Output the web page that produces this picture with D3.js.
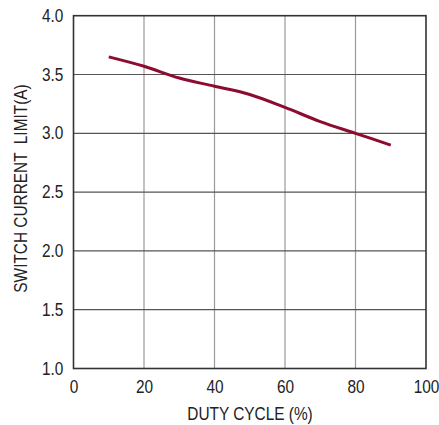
<!DOCTYPE html>
<html>
<head>
<meta charset="utf-8">
<script src="https://cdn.jsdelivr.net/npm/d3@7"></script>
<style>
body { margin: 0; background: #fff; }
text { font-family: "Liberation Sans", Arial, sans-serif; fill: #222; }
</style>
</head>
<body>
<div id="chart"></div>
<script>
// switch current limit vs duty cycle
var dutyCycle = [10, 20, 30, 40, 50, 60, 70, 80, 90];
var currentLimit = [3.65, 3.57, 3.47, 3.40, 3.33, 3.22, 3.10, 3.00, 2.90];
var xTicks = [0, 20, 40, 60, 80, 100];
var yTicks = [1.0, 1.5, 2.0, 2.5, 3.0, 3.5, 4.0];

var margin = { top: 15.7, left: 73.5, right: 13, bottom: 56.5 };
var width = 439, height = 425;
var plotW = width - margin.left - margin.right;
var plotH = height - margin.top - margin.bottom;
var narrow = "scale(0.88,1)";

var svg = d3.select("#chart").append("svg")
    .attr("width", width)
    .attr("height", height);

var g = svg.append("g")
    .attr("transform", "translate(" + margin.left + "," + margin.top + ")");

var x = d3.scaleLinear().domain([0, 100]).range([0, plotW]);
var y = d3.scaleLinear().domain([1, 4]).range([plotH, 0]);

// vertical grid (lighter)
g.selectAll(".vgrid")
    .data(xTicks.slice(1, -1))
    .enter().append("line")
    .attr("x1", function(d) { return x(d) }).attr("x2", function(d) { return x(d) })
    .attr("y1", 0).attr("y2", plotH)
    .attr("stroke", "#999").attr("stroke-width", 1.2);

// horizontal grid (darker)
g.selectAll(".hgrid")
    .data(yTicks.slice(1, -1))
    .enter().append("line")
    .attr("x1", 0).attr("x2", plotW)
    .attr("y1", function(d) { return y(d) }).attr("y2", function(d) { return y(d) })
    .attr("stroke", "#555").attr("stroke-width", 1.2);

g.append("rect")
    .attr("width", plotW).attr("height", plotH)
    .attr("fill", "none").attr("stroke", "#333").attr("stroke-width", 1.6);

var xAxis = g.append("g")
    .attr("transform", "translate(0," + plotH + ")")
    .call(d3.axisBottom(x).tickValues(xTicks).tickSize(0).tickPadding(12).tickFormat(d3.format("d")));
xAxis.select(".domain").remove();
xAxis.selectAll("text").style("font-size", "17.5px").attr("fill", "#222").attr("transform", narrow);

var yAxis = g.append("g")
    .call(d3.axisLeft(y).tickValues(yTicks).tickSize(0).tickPadding(11.5).tickFormat(d3.format(".1f")));
yAxis.select(".domain").remove();
yAxis.selectAll("text").style("font-size", "17.5px").attr("fill", "#222").attr("transform", narrow);

var line = d3.line()
    .x(function(d, i) { return x(dutyCycle[i]) })
    .y(function(d) { return y(d) })
    .curve(d3.curveMonotoneX);

g.append("path")
    .datum(currentLimit)
    .attr("d", line)
    .attr("fill", "none")
    .attr("stroke", "#8c0b2f")
    .attr("stroke-width", 3);

svg.append("text")
    .attr("transform", "translate(250,420) " + narrow)
    .attr("text-anchor", "middle")
    .style("font-size", "17.5px")
    .text("DUTY CYCLE (%)");

svg.append("text")
    .attr("transform", "translate(27,188.5) rotate(-90) " + narrow)
    .attr("text-anchor", "middle")
    .style("font-size", "17.5px")
    .style("white-space", "pre")
    .attr("xml:space", "preserve")
    .text("SWITCH CURRENT  LIMIT(A)");
</script>
</body>
</html>
